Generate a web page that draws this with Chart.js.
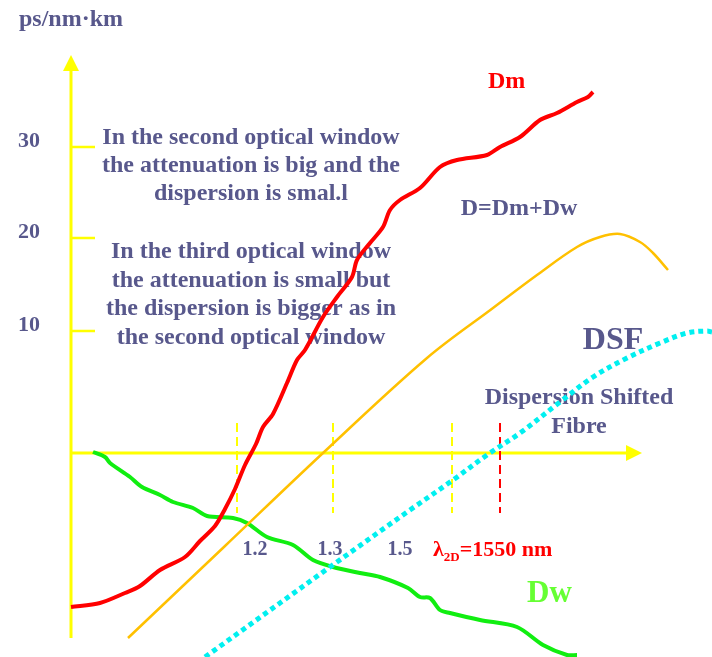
<!DOCTYPE html>
<html>
<head>
<meta charset="utf-8">
<script src="https://cdn.jsdelivr.net/npm/chart.js@4.4.0/dist/chart.umd.min.js"></script>
<style>
    html, body { margin: 0; padding: 0; background: #ffffff; }
    #wrap { width: 712px; height: 657px; }
</style>
</head>
<body>
<div id="wrap"><canvas id="chart" width="712" height="657"></canvas></div>
<script>
// --------------------------------------------------------------------
// DATA (x: position along the wavelength axis, y: dispersion ps/nm·km)
// --------------------------------------------------------------------
const dmX = [7.1, 10.0, 12.5, 14.0, 16.0, 18.5, 20.0, 21.5, 22.5, 23.5, 24.5, 25.6, 26.3, 27.3, 28.7, 29.7, 30.5, 32.3, 33.7, 35.2, 35.7, 37.0, 38.3, 39.0, 40.0, 42.0, 44.0, 45.7, 48.7, 50.0, 52.0, 54.0, 55.7, 57.7, 58.8, 59.3];
const dmY = [-15.4, -15.0, -14.0, -13.3, -11.7, -10.4, -8.8, -7.3, -5.6, -3.6, -1.2, 0.9, 2.6, 3.9, 7.0, 9.3, 10.3, 13.6, 15.6, 17.6, 19.3, 21.0, 22.6, 24.3, 25.3, 26.5, 28.6, 29.3, 29.8, 30.6, 31.6, 33.3, 34.0, 35.1, 35.6, 36.1];

const dwX = [9.3, 10.5, 11.0, 13.0, 14.2, 16.0, 17.3, 19.3, 20.7, 23.3, 24.7, 26.7, 29.3, 31.3, 33.3, 36.0, 38.0, 40.8, 42.0, 43.0, 44.0, 45.0, 48.0, 51.7, 54.3, 56.7, 57.7];
const dwY = [0.1, -0.4, -1.0, -2.4, -3.4, -4.2, -4.9, -5.5, -6.3, -6.5, -7.0, -8.4, -9.2, -10.7, -11.4, -12.0, -12.4, -13.5, -14.4, -14.5, -15.7, -16.0, -16.7, -17.4, -19.2, -20.2, -20.2];

const dX = [12.8, 22.5, 32.3, 42.7, 49.3, 53.7, 57.7, 60.0, 62.0, 64.0, 65.3, 66.8];
const dY = [-18.5, -9.3, 0.0, 9.5, 14.5, 17.8, 20.6, 21.6, 21.9, 21.1, 20.0, 18.3];

const dsfX = [20.5, 33.0, 41.0, 45.3, 48.7, 52.0, 56.0, 59.3, 62.7, 66.0, 68.7, 70.7, 71.2];
const dsfY = [-20.4, -11.4, -5.7, -2.7, -0.2, 2.0, 5.1, 7.6, 9.5, 11.0, 12.0, 12.2, 12.1];

const yTickLabels = ["30", "20", "10"];
const yTickLevels = [30.6, 21.5, 12.2];

const xTickLabels = ["1.2", "1.3", "1.5"];
const windowMarksX = [23.7, 33.3, 45.2];
const zeroDispersionX = 50.0;

// --------------------------------------------------------------------
// STYLE
// --------------------------------------------------------------------
const TEXT = "#58588c";
const AXIS = "#ffff00";
const SERIF = "'Liberation Serif', 'Times New Roman', serif";

function toPoints(xs, ys) {
    return xs.map((x, i) => ({ x: x, y: ys[i] }));
}

function markerLine(x, color) {
    return {
        data: [{ x: x, y: 3.0 }, { x: x, y: -6.0 }],
        borderColor: color,
        borderWidth: 2,
        borderDash: [9, 5],
        pointRadius: 0
    };
}

// axes, arrows, tick marks and all the text
const diagramPlugin = {
    id: "diagram",
    beforeDatasetsDraw(chart) {
        const ctx = chart.ctx;
        const xs = chart.scales.x;
        const ys = chart.scales.y;
        const px = v => xs.getPixelForValue(v);
        const py = v => ys.getPixelForValue(v);

        ctx.save();

        // axes
        ctx.strokeStyle = AXIS;
        ctx.fillStyle = AXIS;
        ctx.lineWidth = 3;
        ctx.beginPath();
        ctx.moveTo(px(7.1), py(-18.5));
        ctx.lineTo(px(7.1), py(38.5));
        ctx.moveTo(px(7.1), py(0));
        ctx.lineTo(px(63.0), py(0));
        ctx.stroke();

        ctx.beginPath();
        ctx.moveTo(px(7.1), py(39.8));
        ctx.lineTo(px(6.3), py(38.2));
        ctx.lineTo(px(7.9), py(38.2));
        ctx.closePath();
        ctx.fill();

        ctx.beginPath();
        ctx.moveTo(px(64.2), py(0));
        ctx.lineTo(px(62.6), py(0.8));
        ctx.lineTo(px(62.6), py(-0.8));
        ctx.closePath();
        ctx.fill();

        // y ticks
        ctx.lineWidth = 2.5;
        ctx.beginPath();
        yTickLevels.forEach(v => {
            ctx.moveTo(px(7.1), py(v));
            ctx.lineTo(px(9.5), py(v));
        });
        ctx.stroke();

        ctx.fillStyle = TEXT;
        ctx.textBaseline = "alphabetic";
        ctx.textAlign = "left";
        ctx.font = "bold 22px " + SERIF;
        yTickLabels.forEach((t, i) => ctx.fillText(t, 18, py(yTickLevels[i])));

        ctx.font = "bold 24px " + SERIF;
        ctx.fillText("ps/nm\u00b7km", 19, 26);

        // notes
        ctx.textAlign = "center";
        const note1 = ["In the second optical window", "the attenuation is big and the", "dispersion is smal.l"];
        note1.forEach((t, i) => ctx.fillText(t, 251, 144 + i * 28));
        const note2 = ["In the third optical window", "the attenuation is small but", "the dispersion is bigger as in", "the second optical window"];
        note2.forEach((t, i) => ctx.fillText(t, 251, 258 + i * 28.5));

        ctx.fillText("D=Dm+Dw", 519, 215);
        ctx.fillText("Dispersion Shifted", 579, 404);
        ctx.fillText("Fibre", 579, 433);

        ctx.font = "bold 32px " + SERIF;
        ctx.fillText("DSF", 613, 349);

        // wavelength labels
        ctx.font = "bold 20px " + SERIF;
        const labelX = [255, 330, 400];
        xTickLabels.forEach((t, i) => ctx.fillText(t, labelX[i], 555));

        // curve names
        ctx.textAlign = "left";
        ctx.fillStyle = "#ff0000";
        ctx.font = "bold 24px " + SERIF;
        ctx.fillText("Dm", 488, 88);

        let x = 433;
        ctx.font = "bold 22px " + SERIF;
        ctx.fillText("\u03bb", x, 556);
        x += ctx.measureText("\u03bb").width;
        ctx.font = "bold 13px " + SERIF;
        ctx.fillText("2D", x, 561);
        x += ctx.measureText("2D").width;
        ctx.font = "bold 22px " + SERIF;
        ctx.fillText("=1550 nm", x, 556);

        ctx.fillStyle = "#66ff33";
        ctx.font = "bold 31px " + SERIF;
        ctx.fillText("Dw", 527, 602);

        ctx.restore();
    }
};

new Chart(document.getElementById("chart"), {
    type: "line",
    data: {
        datasets: [
            {
                label: "DSF",
                data: toPoints(dsfX, dsfY),
                borderColor: "#00f0f0",
                borderWidth: 5,
                borderDash: [5, 4],
                borderCapStyle: "butt",
                tension: 0.35,
                pointRadius: 0
            },
            {
                label: "D=Dm+Dw",
                data: toPoints(dX, dY),
                borderColor: "#ffc000",
                borderWidth: 2.5,
                tension: 0.35,
                pointRadius: 0
            },
            {
                label: "Dm",
                data: toPoints(dmX, dmY),
                borderColor: "#ff0000",
                borderWidth: 4,
                tension: 0.3,
                pointRadius: 0
            },
            {
                label: "Dw",
                data: toPoints(dwX, dwY),
                borderColor: "#11ee11",
                borderWidth: 4,
                tension: 0.3,
                pointRadius: 0
            },
            ...windowMarksX.map(x => markerLine(x, AXIS)),
            markerLine(zeroDispersionX, "#ff0000")
        ]
    },
    options: {
        responsive: false,
        animation: false,
        layout: { padding: 0 },
        plugins: {
            legend: { display: false },
            tooltip: { enabled: false }
        },
        scales: {
            x: { type: "linear", min: 0, max: 71.2, display: false },
            y: { type: "linear", min: -20.4, max: 45.3, display: false }
        }
    },
    plugins: [diagramPlugin]
});
</script>
</body>
</html>
